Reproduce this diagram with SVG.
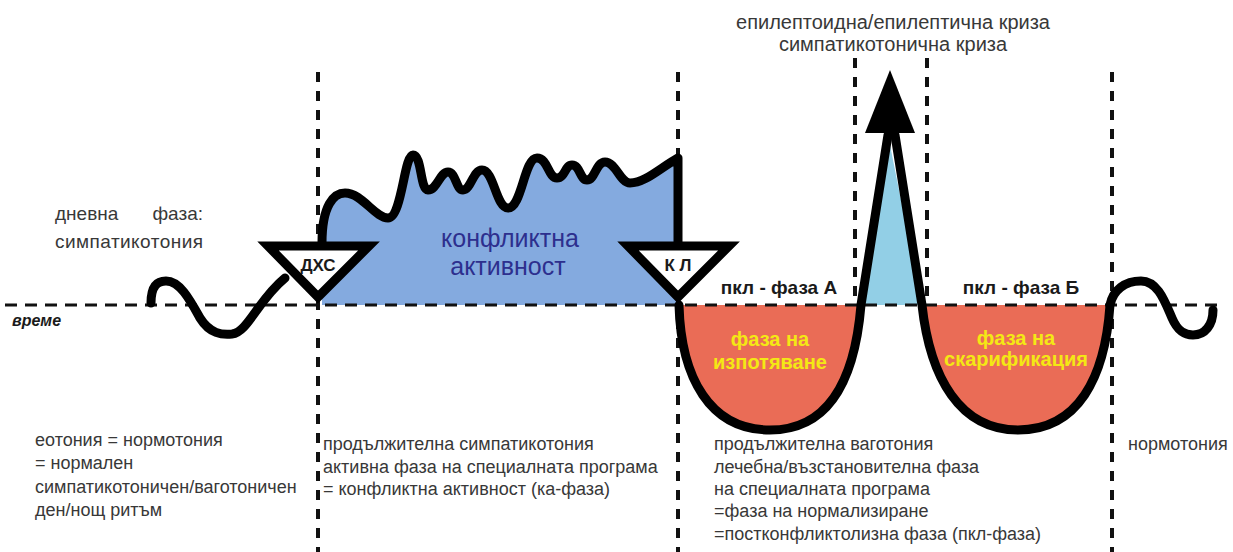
<svg xmlns="http://www.w3.org/2000/svg" width="1233" height="552" viewBox="0 0 1233 552">
<style>
.t{font-family:"Liberation Sans",Arial,sans-serif;fill:#383838}
.b{font-family:"Liberation Sans",Arial,sans-serif;font-weight:bold;fill:#1a1a1a}
.y{font-family:"Liberation Sans",Arial,sans-serif;font-weight:bold;fill:#f4e814;font-size:20px;text-anchor:middle}
.vd{stroke:#111;stroke-width:4;stroke-dasharray:10 9;fill:none}
.hd{stroke:#111;stroke-width:3;stroke-dasharray:12 8;fill:none}
.k{stroke:#000;stroke-width:9;fill:none;stroke-linecap:round;stroke-linejoin:round}
.tri{fill:#fff;stroke:#000;stroke-width:9;stroke-linejoin:miter}
</style>
<rect width="1233" height="552" fill="#fff"/>

<g id="fills">
<path id="ka-fill" fill="#84aadf" d="M318 305 L322 305 L322 243 C322 205,334 193,345 193 C362 193,375 218,388 218 C402 218,404 155,413 155 C422 155,420 190,428 190 C437 190,440 172,448 172 C456 172,456 190,463 190 C471 190,473 170,482 170 C494 170,496 208,508 208 C522 208,524 158,537 158 C548 158,548 178,557 178 C565 178,565 165,572 165 C580 165,580 180,587 180 C595 180,596 162,605 162 C616 162,620 183,630 183 C645 183,660 168,678 158 L678 305 Z"/>
<path id="spike-fill" fill="#92cfe6" d="M864 305 L889 140 L922 305 Z"/>
<path id="bowl-a-fill" fill="#ea6c56" d="M679 305 C681 378,710 430,770 430 C830 430,855 378,861 305 Z"/>
<path id="bowl-b-fill" fill="#ea6c56" d="M924 305 C930 378,960 430,1018 430 C1078 430,1105 378,1110 305 Z"/>
</g>

<g id="connectors">
<line class="hd" x1="5" y1="305" x2="1218" y2="305"/>
<line class="vd" x1="318" y1="72" x2="318" y2="552"/>
<line class="vd" x1="678" y1="72" x2="678" y2="552"/>
<line class="vd" x1="855" y1="58" x2="855" y2="305"/>
<line class="vd" x1="927" y1="58" x2="927" y2="305"/>
<line class="vd" x1="1112" y1="72" x2="1112" y2="552"/>

<path class="k" d="M151 303 C151 285,158 281,166 281 C180 281,190 300,200 318 C210 334,222 335,232 334 C248 332,258 300,285 278"/>
<path class="k" d="M322 243 C322 205,334 193,345 193 C362 193,375 218,388 218 C402 218,404 155,413 155 C422 155,420 190,428 190 C437 190,440 172,448 172 C456 172,456 190,463 190 C471 190,473 170,482 170 C494 170,496 208,508 208 C522 208,524 158,537 158 C548 158,548 178,557 178 C565 178,565 165,572 165 C580 165,580 180,587 180 C595 180,596 162,605 162 C616 162,620 183,630 183 C645 183,660 168,678 158 L678 246"/>
<path class="k" d="M679 305 C681 378,710 430,770 430 C830 430,855 378,861 305 L888 135"/>
<path class="k" d="M895 135 L922 305 C930 378,960 430,1018 430 C1078 430,1105 378,1110 305 C1113 290,1125 281,1141 281 C1158 281,1165 302,1172 318 C1178 332,1185 335,1193 335 C1205 335,1213 325,1213 310"/>
<polygon id="arrowhead" points="890,70 915,133 865,133" fill="#000"/>
</g>

<g id="node-dhs">
<polygon class="tri" points="268,246 369,246 318,297"/>
<text class="b" x="318" y="271" font-size="17" text-anchor="middle">ДХС</text>
</g>
<g id="node-kl">
<polygon class="tri" points="628,246 729,246 678,297"/>
<text class="b" x="678" y="271" font-size="17" text-anchor="middle">К Л</text>
</g>

<g id="labels">
<text class="t" x="55" y="220" font-size="19">дневна</text>
<text class="t" x="203" y="220" font-size="19" text-anchor="end">фаза:</text>
<text class="t" x="55" y="248" font-size="19" textLength="148">симпатикотония</text>
<text class="b" x="12" y="326" font-size="16" font-style="italic">време</text>
<text x="510" y="247" font-size="25" fill="#2d2f8e" font-family="Liberation Sans,Arial,sans-serif" text-anchor="middle">конфликтна</text>
<text x="508" y="275" font-size="25" fill="#2d2f8e" font-family="Liberation Sans,Arial,sans-serif" text-anchor="middle">активност</text>
<text class="b" x="779" y="294" font-size="19" text-anchor="middle">пкл - фаза А</text>
<text class="b" x="1021" y="294" font-size="19" text-anchor="middle">пкл - фаза Б</text>
<text class="y" x="770" y="346">фаза на</text>
<text class="y" x="770" y="369">изпотяване</text>
<text class="y" x="1016" y="345">фаза на</text>
<text class="y" x="1016" y="366">скарификация</text>
<text class="t" x="893" y="29" font-size="20" text-anchor="middle">епилептоидна/епилептична криза</text>
<text class="t" x="893" y="51" font-size="20" text-anchor="middle">симпатикотонична криза</text>

<text class="t" font-size="18" x="35" y="446">еотония = нормотония</text>
<text class="t" font-size="18" x="35" y="469">= нормален</text>
<text class="t" font-size="18" x="35" y="493">симпатикотоничен/ваготоничен</text>
<text class="t" font-size="18" x="35" y="516">ден/нощ ритъм</text>

<text class="t" font-size="18" x="323" y="450">продължителна симпатикотония</text>
<text class="t" font-size="18" x="323" y="473">активна фаза на специалната програма</text>
<text class="t" font-size="18" x="323" y="495">= конфликтна активност (ка-фаза)</text>

<text class="t" font-size="18" x="714" y="450">продължителна ваготония</text>
<text class="t" font-size="18" x="714" y="473">лечебна/възстановителна фаза</text>
<text class="t" font-size="18" x="714" y="495">на специалната програма</text>
<text class="t" font-size="18" x="714" y="517">=фаза на нормализиране</text>
<text class="t" font-size="18" x="714" y="540">=постконфликтолизна фаза (пкл-фаза)</text>

<text class="t" font-size="18" x="1128" y="450">нормотония</text>
</g>
</svg>
